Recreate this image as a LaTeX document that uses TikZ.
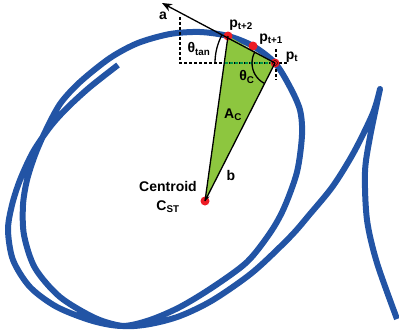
\documentclass[tikz,border=0pt]{standalone}
\usepackage{fontspec}
\setmainfont{Liberation Sans}
\usetikzlibrary{arrows.meta,angles}
\definecolor{curveblue}{RGB}{34,84,165}
\definecolor{areagreen}{RGB}{141,198,63}
\definecolor{ptred}{RGB}{237,28,36}
\definecolor{dashgreen}{RGB}{0,150,70}
\begin{document}
\begin{tikzpicture}[x=1pt,y=-1pt,font=\fontsize{14}{19}\selectfont\bfseries,
  ptdot/.style={circle,fill=ptred,inner sep=0pt,minimum size=9pt},
  lbl/.style={inner sep=0pt},
  guide/.style={dashed,dash pattern=on 3pt off 2pt,line width=1.1pt},
  edge/.style={line width=1.3pt}]
\useasboundingbox(0,0)rectangle(399,333);
\coordinate(pt)at(275,63);\coordinate(pt1)at(253,46);\coordinate(pt2)at(228,36);\coordinate(cen)at(205,201);
\coordinate(atip)at(162,3);\coordinate(vtop)at(180,17);\coordinate(hl)at(180,63);\coordinate(hr)at(287,63);
\coordinate(vu)at(276,49);\coordinate(vd)at(276,80);
\draw[curveblue,line width=6pt,line join=round]plot[smooth]coordinates{(397,319)(377,263)(367,220)(365,172)(370,137)(380,89)}
 --plot[smooth]coordinates{(380,89)(373,113)(354,152)(333,186)(310,214)(290,237)(253,272)(213,300)(180,316)(150,324)(123,326)(95,318)(60,297)(35,268)(24,235)(23,205)(27,180)(35,155)(45,132)(60,104)(80,82)(110,58)(138,43)(170,34)(200,32)(228,36)(253,46)(275,63)(290,87)(300,110)(302,135)(297,172)(284,208)(270,233)(247,262)(213,287)(180,307)(150,320)(123,326)(93,321)(57,307)(30,287)(13,260)(8,230)(12,205)(20,180)(33,152)(50,127)(67,108)(90,87)(118,65)};
\fill[areagreen](pt2)--(pt)--(cen)--cycle;
\draw[guide](vtop)--(hl)--(hr);\draw[guide](vu)--(vd);
\begin{scope}\clip(pt2)--(pt)--(cen)--cycle;\draw[guide,dashgreen](hl)--(hr);\end{scope}
\foreach\p in{pt,pt1,pt2,cen}{\node[ptdot](d\p)at(\p){};}
\draw[edge](pt2)--(cen);\draw[edge,-{Stealth[length=6pt,width=4pt]}](pt)--(cen);
\draw[edge,-{Stealth[length=10pt,width=8pt]}](pt)--(atip);
\draw[thin](pt)circle(2.5pt);
\pic[draw,edge,angle radius=60pt]{angle=atip--pt--hl};
\pic[draw,edge,angle radius=23pt]{angle=pt2--pt--cen};
\node[lbl](la)at(163,16){a};\node[lbl](lth)at(199,49){θ\textsubscript{tan}};\node[lbl](lthc)at(247,77){θ\textsubscript{C}};
\node[lbl](lp2)at(241,25){p\textsubscript{t+2}};\node[lbl](lp1)at(271,39){p\textsubscript{t+1}};\node[lbl](lp)at(292,57){p\textsubscript{t}};
\node[lbl](lac)at(233,115){A\textsubscript{C}};\node[lbl](lb)at(231,175){b};
\node[lbl,align=center](lcen)at(168,197){Centroid\\C\textsubscript{ST}};
\end{tikzpicture}
\end{document}
